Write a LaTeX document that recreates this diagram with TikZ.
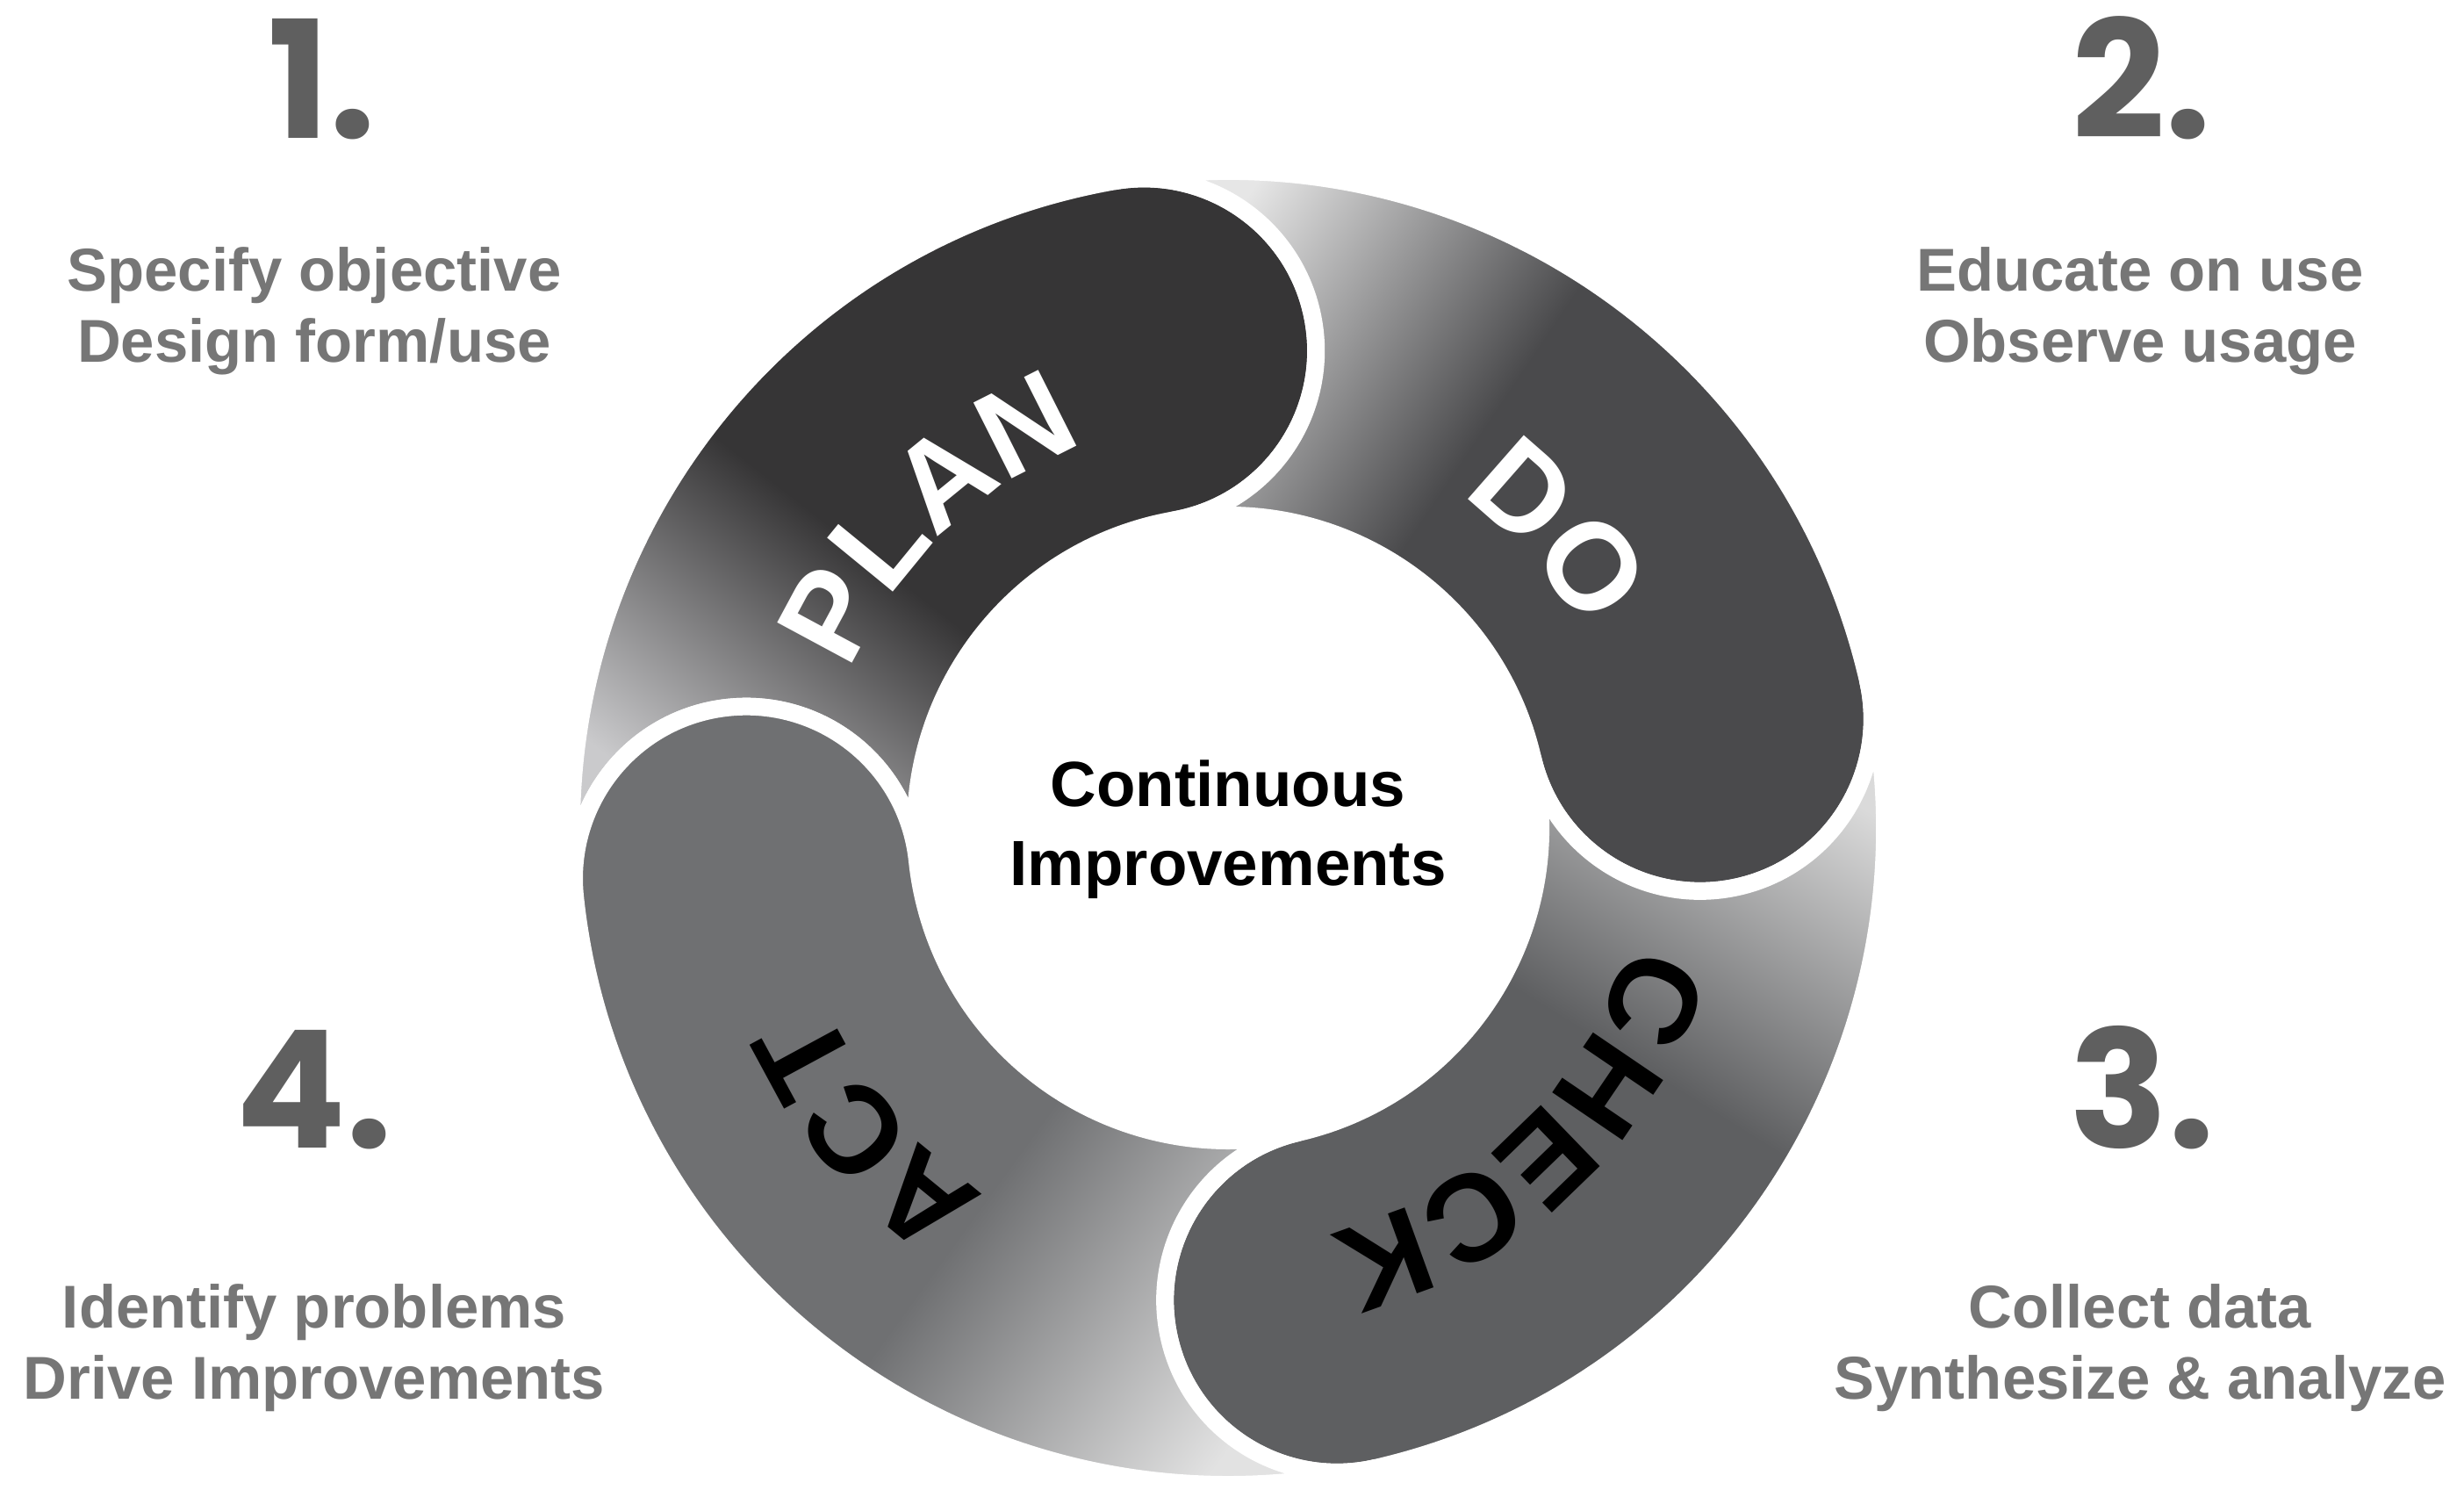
\documentclass[tikz,border=0pt]{standalone}
\usepackage{fontspec}
\setmainfont{Liberation Sans}
\newfontfamily\numfont{Poppins}
\usetikzlibrary{decorations.text}

\definecolor{numgray}{HTML}{5F5F5F}
\definecolor{txtgray}{HTML}{767676}
\definecolor{plandk}{HTML}{363536}
\definecolor{planlt}{HTML}{CACACC}
\definecolor{dodk}{HTML}{4A4A4C}
\definecolor{dolt}{HTML}{E6E6E6}
\definecolor{checkdk}{HTML}{5E5F61}
\definecolor{checklt}{HTML}{DADADA}
\definecolor{actdk}{HTML}{6F7072}
\definecolor{actlt}{HTML}{E2E2E2}
\colorlet{seglt}{white}
\colorlet{segdk}{black}
\pgfdeclareverticalshading[seglt,segdk]{ringshade}{100bp}{color(0bp)=(seglt); color(25bp)=(seglt); color(46bp)=(segdk); color(100bp)=(segdk)}

\newcommand{\ringfont}{\fontsize{40}{40}\selectfont\bfseries}

\tikzset{seg/.style={draw=white, line width=2mm, line join=round}}
\tikzset{num/.style={font=\numfont\bfseries\fontsize{53}{53}\selectfont, text=numgray, inner sep=0pt, anchor=base}}
\tikzset{desc/.style={font=\bfseries\fontsize{19.6}{23}\selectfont, text=txtgray, align=center, inner sep=0pt, anchor=base}}
\tikzset{middle/.style={font=\bfseries\fontsize{20.7}{25.4}\selectfont, align=center, inner sep=0pt, anchor=base}}

\begin{document}
\begin{tikzpicture}
\useasboundingbox (0,0) rectangle (28.07,16.96);

\pgfmathsetmacro{\rout}{7.48}
\pgfmathsetmacro{\rin}{3.56}
\pgfmathsetmacro{\rcap}{1.96}

\begin{scope}[shift={(13.99,7.53)}]
% ring segments: tail/head/dark/light/shading angle
\foreach \t/\h/\dk/\lt/\ang in {186/100/plandk/planlt/-38, 100/13/dodk/dolt/-124,
  13/-77/checkdk/checklt/148, 283/186/actdk/actlt/54}
{
\colorlet{segdk}{\dk}\colorlet{seglt}{\lt}
\shadedraw[seg, shading=ringshade, shading angle=\ang]
  (\t:\rout) arc[start angle=\t, end angle=\h, radius=\rout]
  arc[start angle=\h, end angle=\h-180, radius=\rcap]
  arc[start angle=\h, end angle=\t, radius=\rin]
  arc[start angle=\t-180, end angle=\t, radius=\rcap] -- cycle;
}

\path[decorate, decoration={text along path, text align=center,
  text={|\ringfont\color{white}|PLAN}}]
  (179:4.66) arc[start angle=179, end angle=89, radius=4.66];
\path[decorate, decoration={text along path, text align=center,
  text={|\ringfont\color{white}|DO}}]
  (87:4.62) arc[start angle=87, end angle=-3, radius=4.62];
\path[decorate, decoration={text along path, text align=center,
  text={|\ringfont\color{black}|CHECK}}]
  (14:4.75) arc[start angle=14, end angle=-106, radius=4.75];
\path[decorate, decoration={text along path, text align=center,
  text={|\ringfont\color{black}|ACT}}]
  (265:5.0) arc[start angle=265, end angle=175, radius=5.0];

\node[middle] (ci) at (0,-0.65) {Continuous\\Improvements};
\end{scope}

\node[num] (n1) at (3.67,15.38) {1.};
\node[num] (n2) at (24.40,15.38) {2.};
\node[num] (n3) at (24.40,3.89) {3.};
\node[num] (n4) at (3.58,3.89) {4.};

\node[desc] (d1) at (3.58,12.84) {Specify objective\\Design form/use};
\node[desc] (d2) at (24.38,12.84) {Educate on use\\Observe usage};
\node[desc] (d3) at (24.38,1.03) {Collect data\\Synthesize \& analyze};
\node[desc] (d4) at (3.58,1.03) {Identify problems\\Drive Improvements};
\end{tikzpicture}
\end{document}
